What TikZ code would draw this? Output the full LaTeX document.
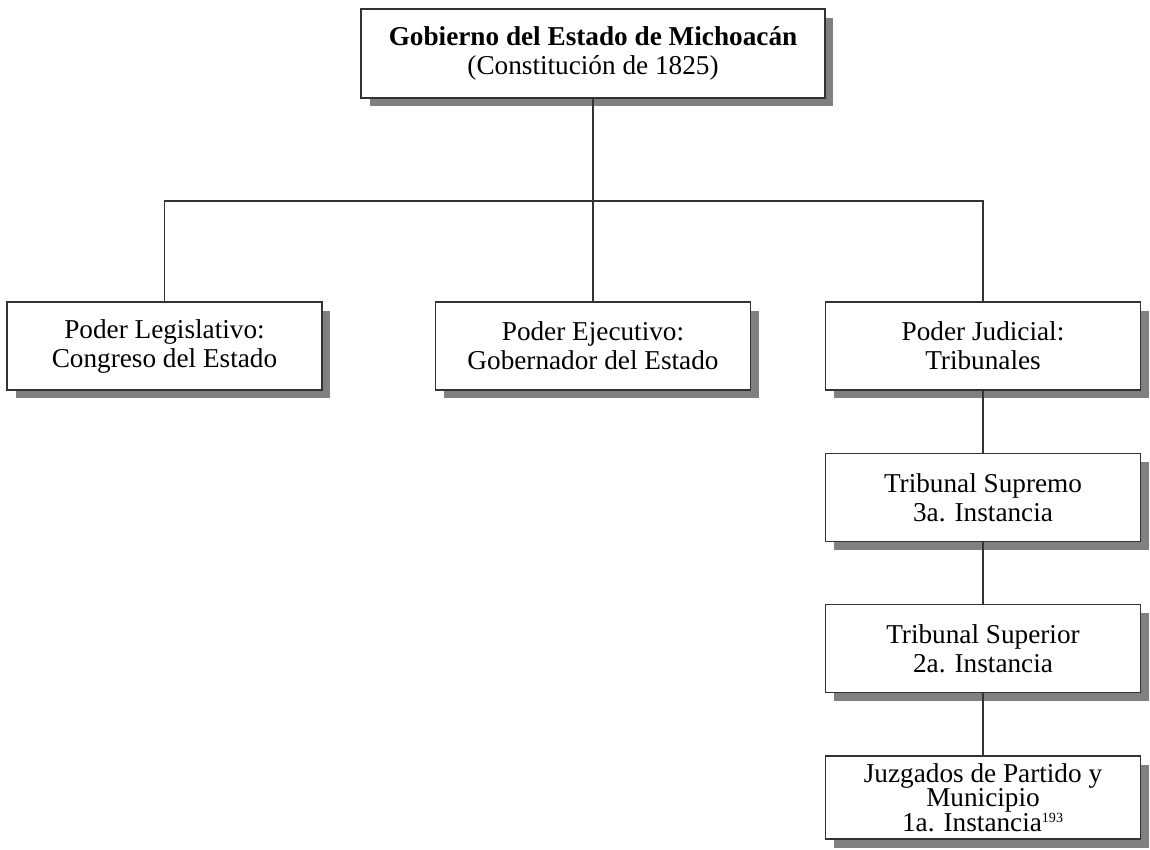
\documentclass[tikz,border=0pt]{standalone}
\usepackage{fontspec}
\setmainfont{Liberation Serif}
\usepackage{tikz}
\usetikzlibrary{shadows}

\begin{document}
\begin{tikzpicture}[
    x=0.02cm, y=-0.02cm,
    box/.style={draw=black!80, line width=0.7pt, fill=white,
                minimum width=6.3cm, minimum height=1.76cm,
                align=center, inner sep=2pt,
                font=\fontsize{15.5}{16.5}\selectfont,
                drop shadow={shadow xshift=0.17cm, shadow yshift=-0.17cm,
                             fill=black!50, opacity=1}},
    conn/.style={draw=black!80, line width=0.7pt},
  ]
  \useasboundingbox (0,0) rectangle (1150,849);

  % ── Row 0: Gobierno ──
  \node[box, minimum width=9.28cm, minimum height=1.78cm] at (593, 53.5) (gob)
    {\textbf{Gobierno del Estado de Michoacán}\\(Constitución de 1825)};

  % ── Row 1: Poderes ──
  \node[box] at (164.5, 346) (leg)
    {Poder Legislativo:\\Congreso del Estado};
  \node[box] at (593, 346) (eje)
    {Poder Ejecutivo:\\Gobernador del Estado};
  \node[box] at (983, 346) (jud)
    {Poder Judicial:\\Tribunales};

  % ── Judicial column ──
  \node[box] at (983, 497.5) (supr)
    {Tribunal Supremo\\3a. Instancia};
  \node[box] at (983, 648.5) (super)
    {Tribunal Superior\\2a. Instancia};
  \node[box, minimum height=1.66cm, font=\fontsize{15.5}{14}\selectfont]
    at (983, 797.5) (juz)
    {Juzgados de Partido y\\Municipio\\1a. Instancia\textsuperscript{\fontsize{8}{8}\selectfont 193}};

  % ── Connectors ──
  \coordinate (bus) at (593, 201);
  \draw[conn] (gob.south) -- (bus);
  \draw[conn] (leg.north) |- (bus) -| (jud.north);
  \draw[conn] (bus) -- (eje.north);

  % Tribunales down the instances
  \draw[conn] (jud.south) -- (supr.north);
  \draw[conn] (supr.south) -- (super.north);
  \draw[conn] (super.south) -- (juz.north);

\end{tikzpicture}
\end{document}
